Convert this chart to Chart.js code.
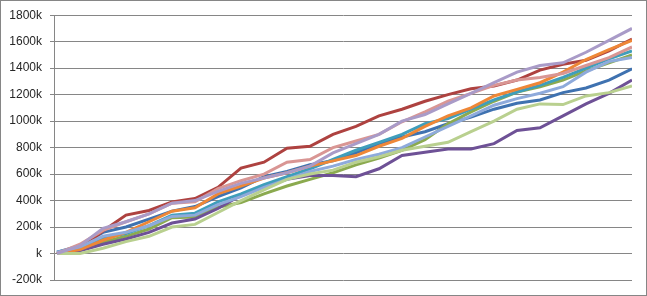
<!DOCTYPE html>
<html>
<head>
<meta charset="utf-8">
<script src="https://cdn.jsdelivr.net/npm/chart.js@4/dist/chart.umd.min.js"></script>
<style>
  html, body { margin: 0; padding: 0; background: #fff; }
  #wrap { position: relative; width: 647px; height: 296px; }
  #frame { position: absolute; left: 0; top: 0; width: 647px; height: 296px; box-sizing: border-box; border: 1px solid #868686; pointer-events: none; }
  canvas { position: absolute; left: 0; top: 0; }
</style>
</head>
<body>
<div id="wrap">
  <canvas id="c" width="647" height="296"></canvas>
  <div id="frame"></div>
</div>
<script>
// values in thousands
const steps = [0,1,2,3,4,5,6,7,8,9,10,11,12,13,14,15,16,17,18,19,20,21,22,23,24,25];
const yTicks = [-200, 0, 200, 400, 600, 800, 1000, 1200, 1400, 1600, 1800];

const darkBlue   = [10, 60, 160, 200, 260, 320, 355, 430, 495, 580, 620, 670, 700, 760, 830, 880, 920, 980, 1030, 1090, 1135, 1160, 1215, 1250, 1310, 1395];
const red        = [0, 40, 170, 290, 325, 390, 415, 500, 645, 690, 795, 810, 900, 960, 1040, 1090, 1150, 1200, 1245, 1265, 1310, 1385, 1430, 1460, 1530, 1620];
const green      = [0, 30, 85, 130, 185, 270, 275, 350, 385, 450, 510, 560, 610, 670, 720, 780, 860, 980, 1070, 1150, 1220, 1260, 1310, 1380, 1440, 1500];
const purple     = [0, 20, 70, 110, 160, 230, 260, 340, 440, 510, 560, 590, 590, 580, 640, 740, 765, 790, 790, 830, 930, 950, 1040, 1130, 1210, 1310];
const teal       = [10, 50, 115, 150, 210, 290, 305, 390, 450, 520, 580, 640, 710, 780, 840, 900, 980, 1020, 1090, 1160, 1220, 1270, 1330, 1400, 1470, 1530];
const orange     = [0, 30, 100, 160, 240, 320, 345, 450, 510, 570, 610, 660, 700, 740, 810, 870, 960, 1040, 1100, 1190, 1240, 1290, 1370, 1465, 1540, 1610];
const lightBlue  = [10, 50, 130, 160, 210, 280, 290, 370, 430, 500, 560, 620, 660, 710, 750, 800, 880, 960, 1040, 1120, 1170, 1210, 1260, 1370, 1450, 1480];
const pink       = [0, 70, 175, 240, 300, 380, 390, 490, 550, 600, 690, 710, 800, 850, 900, 995, 1070, 1150, 1210, 1270, 1310, 1330, 1360, 1420, 1480, 1560];
const lightGreen = [0, 0, 40, 90, 130, 200, 220, 310, 400, 480, 560, 600, 630, 690, 730, 780, 810, 840, 920, 1000, 1090, 1130, 1125, 1190, 1215, 1265];
const lavender   = [0, 60, 190, 240, 300, 380, 400, 470, 530, 570, 610, 660, 760, 830, 900, 1000, 1050, 1130, 1210, 1290, 1370, 1420, 1440, 1520, 1610, 1700];

const seriesList = [darkBlue, red, green, purple, teal, orange, lightBlue, pink, lightGreen, lavender];
const colors = ['#3F72B0', '#AE4240', '#8BAA4F', '#6E5196', '#3F9EBB', '#EE8737', '#8EAADB', '#D99694', '#B9D08F', '#A99BC8'];

const datasets = seriesList.map((s, i) => ({
  data: s.map((v, k) => ({ x: steps[k], y: v })),
  borderColor: colors[i],
  backgroundColor: colors[i],
  borderWidth: 3,
  pointRadius: 0,
  tension: 0,
  fill: false,
  order: seriesList.length - i
}));

new Chart(document.getElementById('c'), {
  type: 'line',
  data: { datasets },
  options: {
    responsive: false,
    animation: false,
    events: [],
    layout: { padding: { left: 0, top: 15, right: 15, bottom: 16 } },
    plugins: { legend: { display: false }, tooltip: { enabled: false } },
    scales: {
      x: {
        type: 'linear',
        display: false,
        min: -0.13,
        max: steps[steps.length - 1]
      },
      y: {
        min: yTicks[0],
        max: yTicks[yTicks.length - 1],
        afterBuildTicks: (axis) => { axis.ticks = yTicks.map(v => ({ value: v })); },
        afterFit: (axis) => { axis.width = 54; },
        ticks: {
          padding: 8,
          color: '#262626',
          font: { family: '"Liberation Sans", Arial, sans-serif', size: 12 },
          callback: (v) => (v === 0 ? 'k' : v + 'k')
        },
        grid: { color: '#868686', lineWidth: 1, tickLength: 4 },
        border: { color: '#868686', width: 1 }
      }
    }
  }
});
</script>
</body>
</html>
